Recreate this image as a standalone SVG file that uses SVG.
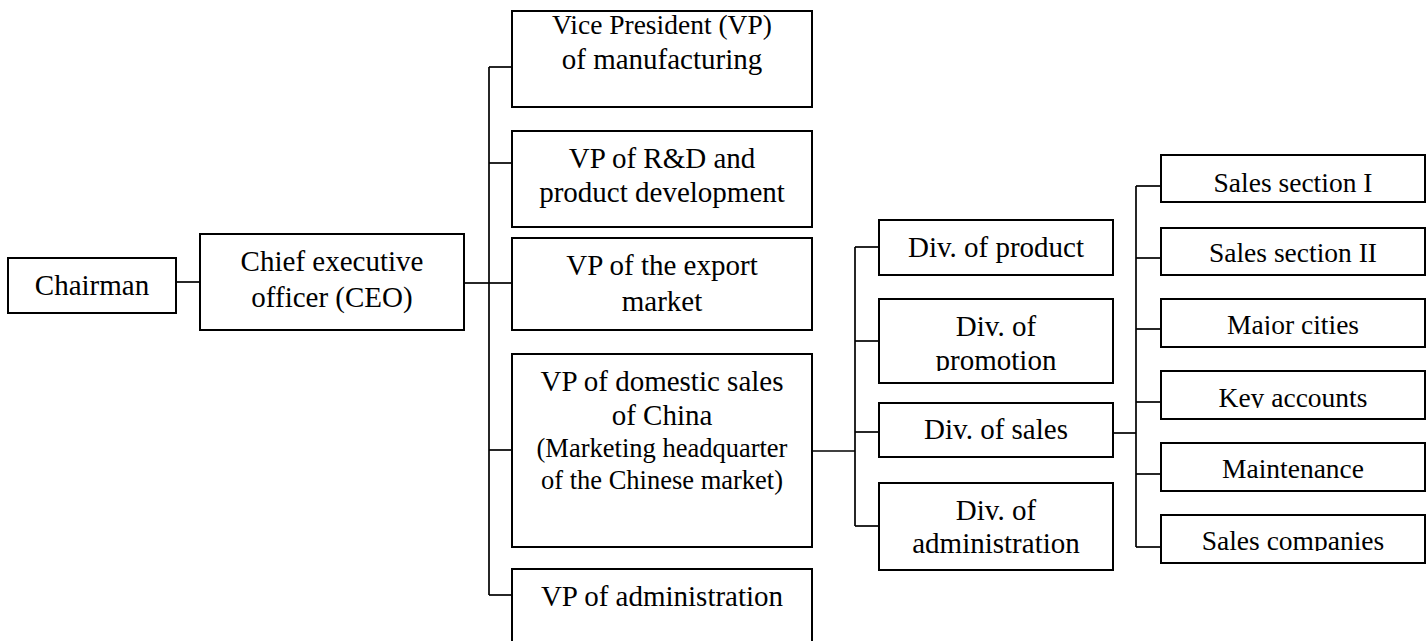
<svg xmlns="http://www.w3.org/2000/svg" width="1427" height="641" viewBox="0 0 1427 641">
  <style>
    .box { fill: #ffffff; stroke: #000000; stroke-width: 2; }
    .link { fill: none; stroke: #000000; stroke-width: 1.7; }
    text { font-family: "Liberation Serif", "Times New Roman", serif; font-size: 29px; fill: #000000; text-anchor: middle; }
    .sm { font-size: 26.5px; }
    .md { font-size: 27.5px; }
  </style>
  <defs>
    <!-- labels whose lower part is cut off at the baseline -->
    <clipPath id="clipPromo"><rect x="879" y="340" width="234" height="31"/></clipPath>
    <clipPath id="clipCities"><rect x="1161" y="300" width="264" height="35"/></clipPath>
    <clipPath id="clipKey"><rect x="1161" y="372" width="264" height="36"/></clipPath>
    <clipPath id="clipCompanies"><rect x="1161" y="516" width="264" height="35"/></clipPath>
  </defs>

  <g id="connectors">
    <!-- Chairman to CEO -->
    <line class="link" x1="176" y1="282" x2="200" y2="282"/>
    <!-- CEO to VP bus -->
    <line class="link" x1="464" y1="283" x2="489" y2="283"/>
    <line class="link" x1="489" y1="67" x2="489" y2="595"/>
    <line class="link" x1="489" y1="67" x2="512" y2="67"/>
    <line class="link" x1="489" y1="163" x2="512" y2="163"/>
    <line class="link" x1="489" y1="283" x2="512" y2="283"/>
    <line class="link" x1="489" y1="450" x2="512" y2="450"/>
    <line class="link" x1="489" y1="595" x2="512" y2="595"/>
    <!-- domestic sales VP to divisions -->
    <line class="link" x1="812" y1="451" x2="855" y2="451"/>
    <line class="link" x1="855" y1="247" x2="855" y2="526"/>
    <line class="link" x1="855" y1="247" x2="879" y2="247"/>
    <line class="link" x1="855" y1="341" x2="879" y2="341"/>
    <line class="link" x1="855" y1="432" x2="879" y2="432"/>
    <line class="link" x1="855" y1="526" x2="879" y2="526"/>
    <!-- sales division to sections -->
    <line class="link" x1="1113" y1="433" x2="1136" y2="433"/>
    <line class="link" x1="1136" y1="186" x2="1136" y2="547"/>
    <line class="link" x1="1136" y1="186" x2="1161" y2="186"/>
    <line class="link" x1="1136" y1="258" x2="1161" y2="258"/>
    <line class="link" x1="1136" y1="329" x2="1161" y2="329"/>
    <line class="link" x1="1136" y1="402" x2="1161" y2="402"/>
    <line class="link" x1="1136" y1="474" x2="1161" y2="474"/>
    <line class="link" x1="1136" y1="547" x2="1161" y2="547"/>
  </g>

  <g id="chairman">
    <rect class="box" x="8" y="258" width="168" height="55"/>
    <text x="92" y="295">Chairman</text>
  </g>
  <g id="ceo">
    <rect class="box" x="200" y="234" width="264" height="96"/>
    <text x="332" y="271">Chief executive</text>
    <text x="332" y="307">officer (CEO)</text>
  </g>

  <g id="vp-manufacturing">
    <rect class="box" x="512" y="11" width="300" height="96"/>
    <text class="md" x="662" y="34">Vice President (VP)</text>
    <text x="662" y="69">of manufacturing</text>
  </g>
  <g id="vp-rd">
    <rect class="box" x="512" y="131" width="300" height="96"/>
    <text x="662" y="168">VP of R&amp;D and</text>
    <text x="662" y="202">product development</text>
  </g>
  <g id="vp-export">
    <rect class="box" x="512" y="238" width="300" height="92"/>
    <text x="662" y="275">VP of the export</text>
    <text x="662" y="311">market</text>
  </g>
  <g id="vp-domestic">
    <rect class="box" x="512" y="354" width="300" height="193"/>
    <text x="662" y="391">VP of domestic sales</text>
    <text x="662" y="425">of China</text>
    <text class="sm" x="662" y="457">(Marketing headquarter</text>
    <text class="sm" x="662" y="489">of the Chinese market)</text>
  </g>
  <g id="vp-administration">
    <rect class="box" x="512" y="569" width="300" height="90"/>
    <text x="662" y="606">VP of administration</text>
  </g>

  <g id="div-product">
    <rect class="box" x="879" y="220" width="234" height="55"/>
    <text x="996" y="257">Div. of product</text>
  </g>
  <g id="div-promotion">
    <rect class="box" x="879" y="299" width="234" height="84"/>
    <text x="996" y="336">Div. of</text>
    <text x="996" y="370" clip-path="url(#clipPromo)">promotion</text>
  </g>
  <g id="div-sales">
    <rect class="box" x="879" y="403" width="234" height="54"/>
    <text x="996" y="439">Div. of sales</text>
  </g>
  <g id="div-administration">
    <rect class="box" x="879" y="483" width="234" height="87"/>
    <text x="996" y="520">Div. of</text>
    <text x="996" y="553">administration</text>
  </g>

  <g id="sales-section-1">
    <rect class="box" x="1161" y="155" width="264" height="47"/>
    <text class="md" x="1293" y="192">Sales section I</text>
  </g>
  <g id="sales-section-2">
    <rect class="box" x="1161" y="228" width="264" height="47"/>
    <text class="md" x="1293" y="262">Sales section II</text>
  </g>
  <g id="major-cities">
    <rect class="box" x="1161" y="299" width="264" height="48"/>
    <text class="md" x="1293" y="334" clip-path="url(#clipCities)">Major cities</text>
  </g>
  <g id="key-accounts">
    <rect class="box" x="1161" y="371" width="264" height="48"/>
    <text class="md" x="1293" y="407" clip-path="url(#clipKey)">Key accounts</text>
  </g>
  <g id="maintenance">
    <rect class="box" x="1161" y="443" width="264" height="48"/>
    <text class="md" x="1293" y="478">Maintenance</text>
  </g>
  <g id="sales-companies">
    <rect class="box" x="1161" y="515" width="264" height="48"/>
    <text class="md" x="1293" y="550" clip-path="url(#clipCompanies)">Sales companies</text>
  </g>
</svg>
